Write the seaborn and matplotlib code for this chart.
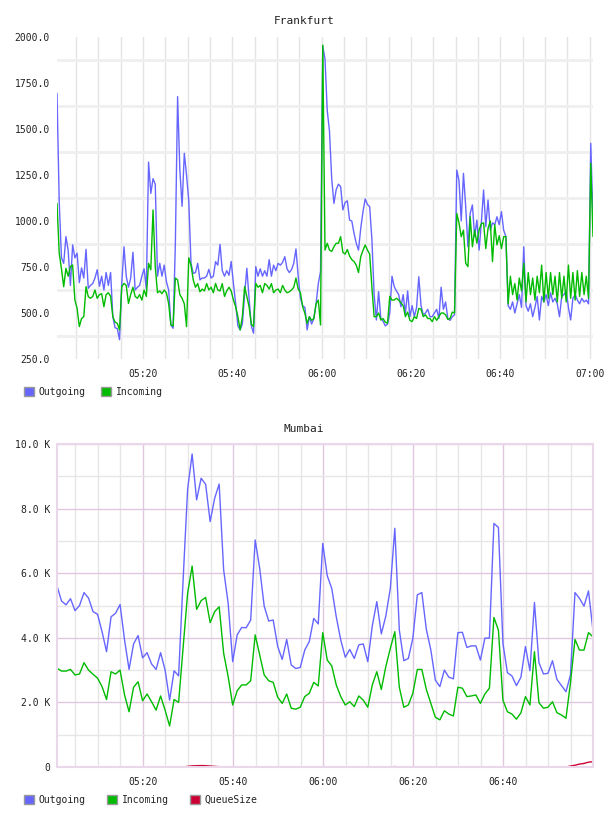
import numpy as np
import pandas as pd
import seaborn as sns
import matplotlib.pyplot as plt
import matplotlib.dates as mdates
from matplotlib.patches import Patch
from matplotlib.ticker import MultipleLocator, FixedLocator, FuncFormatter

# Frankfurt, one sample every 30 s
fra_out = [1694, 1100, 800, 770, 915, 840, 650, 870, 800, 825,
           665, 745, 690, 846, 634, 650, 660, 690, 735, 645,
           700, 625, 720, 650, 720, 480, 420, 415, 355, 660,
           860, 700, 640, 690, 830, 625, 640, 650, 700, 740,
           630, 1320, 1150, 1230, 1200, 700, 770, 700, 760, 670,
           625, 435, 417, 880, 1676, 1280, 1080, 1368, 1250, 1110,
           770, 715, 720, 770, 680, 690, 690, 700, 737, 690,
           700, 779, 760, 873, 730, 700, 730, 705, 780, 660,
           550, 430, 408, 440, 600, 743, 580, 430, 390, 752,
           700, 740, 700, 730, 700, 790, 700, 760, 730, 770,
           760, 775, 806, 740, 720, 735, 770, 848, 700, 580,
           540, 530, 408, 480, 440, 470, 550, 660, 725, 1950,
           1880, 1600, 1490, 1230, 1096, 1170, 1200, 1187, 1060, 1100,
           1110, 1005, 1000, 933, 879, 842, 960, 1050, 1120, 1090,
           1078, 900, 600, 462, 616, 470, 455, 430, 440, 500,
           700, 643, 620, 600, 534, 600, 498, 620, 480, 540,
           480, 530, 697, 540, 490, 500, 520, 480, 480, 500,
           520, 470, 640, 520, 560, 470, 460, 480, 490, 1277,
           1220, 1000, 1259, 1078, 860, 1041, 1087, 915, 1005, 842,
           990, 1168, 969, 1114, 951, 990, 980, 1023, 980, 1051,
           950, 915, 540, 520, 560, 500, 550, 600, 530, 860,
           540, 510, 550, 480, 530, 590, 462, 590, 560, 600,
           540, 610, 560, 580, 550, 480, 590, 600, 620, 530,
           462, 580, 600, 570, 550, 580, 560, 570, 550, 1422,
           1005]
fra_in = [1096, 824, 740, 643, 743, 700, 752, 761, 571, 525,
          426, 470, 480, 643, 589, 580, 590, 625, 580, 600,
          605, 534, 600, 610, 590, 480, 450, 444, 408, 643,
          661, 650, 552, 600, 640, 590, 580, 600, 570, 625,
          590, 770, 735, 1060, 750, 610, 620, 605, 625, 610,
          550, 435, 430, 690, 680, 600, 580, 550, 426, 800,
          760, 680, 640, 660, 615, 630, 620, 660, 625, 640,
          610, 661, 625, 620, 660, 590, 620, 640, 620, 570,
          534, 480, 408, 480, 643, 590, 534, 440, 426, 661,
          640, 650, 610, 660, 650, 630, 660, 610, 625, 630,
          610, 650, 625, 610, 615, 625, 640, 690, 630, 610,
          534, 498, 444, 480, 460, 470, 550, 570, 435, 1956,
          842, 879, 842, 835, 860, 879, 879, 915, 830, 820,
          845, 810, 790, 780, 760, 720, 806, 840, 870, 842,
          820, 640, 480, 480, 500, 462, 470, 450, 445, 590,
          570, 571, 580, 570, 555, 540, 480, 505, 460, 453,
          480, 470, 525, 520, 480, 490, 470, 470, 453, 480,
          460, 480, 500, 500, 490, 465, 470, 505, 500, 1041,
          989, 915, 950, 770, 752, 1023, 860, 950, 880, 951,
          985, 990, 850, 960, 1000, 779, 980, 870, 920, 850,
          915, 915, 550, 700, 600, 660, 570, 690, 620, 770,
          560, 720, 600, 690, 570, 700, 610, 760, 560, 720,
          580, 720, 600, 700, 560, 720, 580, 700, 560, 760,
          580, 720, 570, 730, 590, 720, 600, 700, 580, 1313,
          915]

# Mumbai, one sample per minute
mum_out = [5610, 5140, 5020, 5210, 4840, 5000, 5400, 5230, 4810, 4730,
           4190, 3570, 4650, 4760, 5030, 3930, 3020, 3810, 4070, 3380,
           3540, 3190, 3020, 3540, 3000, 2070, 2980, 2820, 5800, 8600,
           9690, 8270, 8940, 8750, 7600, 8320, 8760, 6100, 5070, 3260,
           4090, 4320, 4310, 4550, 7030, 6150, 4980, 4520, 4550, 3730,
           3330, 3950, 3160, 3050, 3080, 3620, 3880, 4600, 4430, 6920,
           5920, 5530, 4650, 3930, 3400, 3640, 3360, 3780, 3810, 3260,
           4370, 5120, 4120, 4670, 5530, 7390, 4240, 3290, 3360, 3980,
           5330, 5400, 4260, 3620, 2690, 2490, 3000, 2780, 2730, 4160,
           4170, 3700, 3750, 3750, 3310, 3990, 3990, 7540, 7420, 3830,
           2920, 2820, 2520, 2780, 3730, 2980, 5090, 3230, 2880, 2900,
           3290, 2710, 2520, 2330, 2850, 5400, 5220, 4980, 5450, 4220]
mum_in = [3060, 2970, 2970, 3020, 2850, 2880, 3230, 3000, 2870, 2750,
          2490, 2090, 2950, 2880, 3000, 2230, 1710, 2470, 2640, 2050,
          2260, 2020, 1760, 2200, 1760, 1270, 2090, 2000, 3700, 5380,
          6220, 4880, 5150, 5250, 4470, 4810, 4960, 3520, 2800, 1920,
          2360, 2540, 2540, 2670, 4090, 3470, 2850, 2670, 2620, 2160,
          1970, 2260, 1820, 1790, 1850, 2180, 2280, 2620, 2510, 4160,
          3310, 3130, 2540, 2180, 1920, 2020, 1870, 2200, 2070, 1850,
          2540, 2950, 2400, 3110, 3670, 4190, 2470, 1850, 1920, 2280,
          3020, 3020, 2400, 1970, 1540, 1460, 1740, 1640, 1580, 2470,
          2440, 2180, 2200, 2230, 1970, 2260, 2440, 4630, 4240, 2070,
          1710, 1640, 1480, 1680, 2180, 1920, 3570, 1990, 1820, 1850,
          2020, 1680, 1610, 1510, 2610, 3950, 3620, 3620, 4160, 4030]
mum_queue = [0, 0, 0, 0, 0, 0, 0, 0, 0, 0,
             0, 0, 0, 0, 0, 0, 0, 0, 0, 0,
             0, 0, 0, 0, 0, 0, 0, 0, 0, 20,
             35, 40, 45, 40, 30, 20, 10, 0, 0, 0,
             0, 0, 0, 0, 0, 0, 0, 0, 0, 0,
             0, 0, 0, 0, 0, 0, 0, 0, 0, 0,
             0, 0, 0, 0, 0, 0, 0, 0, 0, 0,
             0, 0, 0, 0, 0, 15, 0, 0, 0, 0,
             0, 0, 0, 0, 0, 0, 0, 0, 0, 0,
             0, 0, 0, 0, 0, 0, 0, 0, 0, 0,
             0, 0, 0, 0, 0, 0, 0, 0, 0, 0,
             0, 0, 0, 0, 30, 55, 90, 110, 150, 165]

fra_time = pd.date_range('2024-01-01 05:00:45', periods=len(fra_out), freq='30s')
mum_time = pd.date_range('2024-01-01 05:00:55', periods=len(mum_out), freq='60s')

BLUE, GREEN, RED = '#6666ff', '#00bb00', '#cc0033'
TXT = '#222222'

sns.set_style('white')
plt.rcParams['font.family'] = ['DejaVu Sans Mono']

fig = plt.figure(figsize=(6.08, 8.16), dpi=100)
W, H = 608, 816
ax1 = fig.add_axes([57 / W, 1 - 359 / H, 536 / W, 322 / H])
ax2 = fig.add_axes([57 / W, 1 - 767 / H, 536 / W, 323 / H])

fra = pd.concat([
    pd.DataFrame({'time': fra_time, 'value': fra_out, 'series': 'Outgoing'}),
    pd.DataFrame({'time': fra_time, 'value': fra_in, 'series': 'Incoming'}),
])
mum = pd.concat([
    pd.DataFrame({'time': mum_time, 'value': mum_out, 'series': 'Outgoing'}),
    pd.DataFrame({'time': mum_time, 'value': mum_in, 'series': 'Incoming'}),
    pd.DataFrame({'time': mum_time, 'value': mum_queue, 'series': 'QueueSize'}),
])

sns.lineplot(data=fra, x='time', y='value', hue='series',
             hue_order=['Outgoing', 'Incoming'], palette=[BLUE, GREEN],
             estimator=None, linewidth=1.0, legend=False, ax=ax1)
sns.lineplot(data=mum, x='time', y='value', hue='series',
             hue_order=['Outgoing', 'Incoming', 'QueueSize'],
             palette=[BLUE, GREEN, RED],
             estimator=None, linewidth=1.0, legend=False, ax=ax2)

for ax, t in [(ax1, fra_time), (ax2, mum_time)]:
    ax.set_xlim(t[0], t[-1])
    ax.set_xlabel('')
    ax.set_ylabel('')
    ax.set_axisbelow(True)
    ax.xaxis.set_major_locator(mdates.MinuteLocator(byminute=[0, 20, 40]))
    ax.xaxis.set_major_formatter(mdates.DateFormatter('%H:%M'))
    ax.xaxis.set_minor_locator(mdates.MinuteLocator(byminute=range(0, 60, 5)))
    ax.tick_params(which='both', length=0, labelsize=7, colors=TXT)
    ax.tick_params(axis='y', pad=5)
    ax.tick_params(axis='x', pad=7)
    ax.grid(False)

# Frankfurt
ax1.set_ylim(250, 2000)
ax1.yaxis.set_major_locator(MultipleLocator(250))
ax1.yaxis.set_major_formatter(FuncFormatter(lambda v, p: f'{v:.1f}'))
ax1.yaxis.set_minor_locator(FixedLocator(np.arange(375, 2000, 250)))
ax1.grid(True, which='minor', axis='y', color='#efefef', lw=2)
ax1.grid(True, which='both', axis='x', color='#e4e4e4', lw=1)
for s in ax1.spines.values():
    s.set_visible(False)

# Mumbai
ax2.set_ylim(0, 10000)
ax2.yaxis.set_major_locator(MultipleLocator(2000))
ax2.yaxis.set_minor_locator(MultipleLocator(1000))
ax2.yaxis.set_major_formatter(FuncFormatter(lambda v, p: '0' if v == 0 else f'{v / 1000:.1f} K'))
ax2.grid(True, which='major', color='#dfc8df', lw=1)
ax2.grid(True, which='minor', color='#e6e6e6', lw=1)
for s in ax2.spines.values():
    s.set_visible(True)
    s.set_color('#ead8ea')
    s.set_linewidth(1.5)

fig.text(0.5, 1 - 20.5 / H, 'Frankfurt', ha='center', va='center', fontsize=8, color=TXT)
fig.text(0.5, 1 - 429 / H, 'Mumbai', ha='center', va='center', fontsize=8, color=TXT)

def square(c, lab):
    return Patch(facecolor=c, edgecolor='#999999', linewidth=1, label=lab)

fig.legend(handles=[square(BLUE, 'Outgoing'), square(GREEN, 'Incoming')],
           loc='center left', bbox_to_anchor=(24 / W, 1 - 392 / H), ncol=2,
           frameon=False, fontsize=7, handlelength=1.0, handleheight=1.0,
           handletextpad=0.5, columnspacing=1.6, borderpad=0, borderaxespad=0,
           labelcolor=TXT)
fig.legend(handles=[square(BLUE, 'Outgoing'), square(GREEN, 'Incoming'), square(RED, 'QueueSize')],
           loc='center left', bbox_to_anchor=(24 / W, 1 - 800 / H), ncol=3,
           frameon=False, fontsize=7, handlelength=1.0, handleheight=1.0,
           handletextpad=0.5, columnspacing=2.2, borderpad=0, borderaxespad=0,
           labelcolor=TXT)

fig.savefig('out.png', dpi=100)
